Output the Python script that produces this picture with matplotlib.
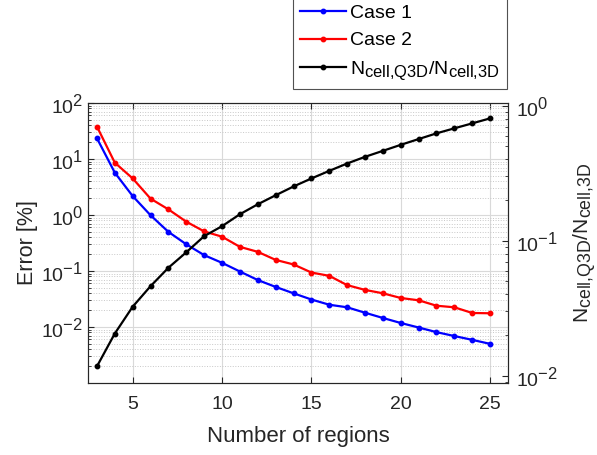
import matplotlib
matplotlib.use('Agg')
import matplotlib.pyplot as plt
import matplotlib._mathtext as mathtext_impl
from matplotlib.ticker import LogLocator, NullFormatter, FixedLocator

plt.rcParams['font.family'] = ['Liberation Sans', 'DejaVu Sans']
plt.rcParams['mathtext.fontset'] = 'custom'
plt.rcParams['mathtext.rm'] = 'Liberation Sans'
plt.rcParams['mathtext.it'] = 'Liberation Sans:italic'
# larger sub/superscripts, closer to TeX-interpreter look
mathtext_impl.SHRINK_FACTOR = 0.85

# number of regions
regions = list(range(3, 26))

# error [%] for both cases
case1_err = [23.5, 5.7, 2.18, 0.99, 0.50, 0.30, 0.192, 0.140, 0.098, 0.069, 0.052,
             0.040, 0.031, 0.025, 0.0225, 0.018, 0.0145, 0.0118, 0.0098, 0.0081,
             0.0069, 0.0059, 0.0050]
case2_err = [38.0, 8.6, 4.5, 1.96, 1.26, 0.76, 0.51, 0.41, 0.27, 0.22, 0.158,
             0.131, 0.094, 0.082, 0.056, 0.046, 0.040, 0.033, 0.030, 0.024,
             0.0225, 0.0178, 0.0176]

# cell count ratio Q3D / 3D
cell_ratio = [0.0117, 0.0205, 0.0324, 0.046, 0.063, 0.082, 0.108, 0.128, 0.157,
              0.186, 0.217, 0.252, 0.289, 0.329, 0.373, 0.418, 0.463, 0.513,
              0.566, 0.624, 0.68, 0.74, 0.806]

ratio_label = r'$\mathregular{N_{cell{,}Q3D}/N_{cell{,}3D}}$'

fig = plt.figure(figsize=(5.97, 4.55), dpi=100)
ax = fig.add_axes([0.1474, 0.1582, 0.7035, 0.6154])
ax2 = ax.twinx()

l1, = ax.plot(regions, case1_err, '-o', color='#0000ff', lw=1.6, ms=3.2, label='Case 1')
l2, = ax.plot(regions, case2_err, '-o', color='#ff0000', lw=1.6, ms=3.2, label='Case 2')
l3, = ax2.plot(regions, cell_ratio, '-o', color='black', lw=1.6, ms=3.2, label=ratio_label)

ax.set_yscale('log')
ax.set_ylim(1.0e-3, 1.0e2)
ax.yaxis.set_major_locator(FixedLocator([1e-2, 1e-1, 1e0, 1e1, 1e2]))
ax.yaxis.set_minor_locator(LogLocator(base=10, subs=range(2, 10), numticks=20))
ax.yaxis.set_minor_formatter(NullFormatter())
ax.set_xlim(2.5, 26)
ax.set_xticks([5, 10, 15, 20, 25])

ax2.set_yscale('log')
ax2.set_ylim(10 ** -2.055, 10 ** 0.02)
ax2.yaxis.set_major_locator(FixedLocator([1e-2, 1e-1, 1e0]))
ax2.yaxis.set_minor_locator(LogLocator(base=10, subs=range(2, 10), numticks=20))
ax2.yaxis.set_minor_formatter(NullFormatter())

# grid: solid majors, dotted minors
ax.grid(True, which='major', color='#d9d9d9', lw=0.8)
ax.yaxis.grid(True, which='minor', color='#c8c8c8', lw=0.7, linestyle=':')
ax.set_axisbelow(True)

for a in (ax, ax2):
    a.tick_params(which='both', direction='in', labelsize=14, colors='#262626',
                  top=True)
    a.tick_params(which='major', length=4)
    a.tick_params(which='minor', length=2)
    for s in a.spines.values():
        s.set_color('#262626')
        s.set_linewidth(0.8)
ax.tick_params(axis='y', which='both', right=False)
ax.tick_params(axis='x', pad=9)
ax2.tick_params(axis='y', pad=6)

ax.set_xlabel('Number of regions', fontsize=16, color='#262626', labelpad=10)
ax.set_ylabel('Error [%]', fontsize=15.5, color='#262626', labelpad=2)
ax2.set_ylabel(ratio_label, fontsize=15, color='#262626', labelpad=9)

leg = fig.legend(handles=[l1, l2, l3], loc='upper right',
                 bbox_to_anchor=(0.849, 1.005), fontsize=14, frameon=True,
                 fancybox=False, edgecolor='#262626', handlelength=2.4,
                 handletextpad=0.2, borderpad=0.35, labelspacing=0.5,
                 borderaxespad=0.0)
leg.get_frame().set_linewidth(0.8)

fig.savefig('out.png', dpi=100)
